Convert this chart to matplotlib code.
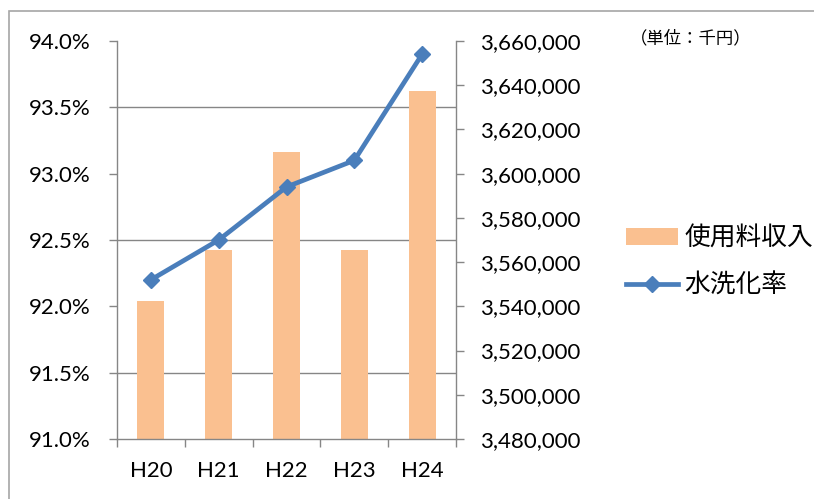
import matplotlib
matplotlib.use("Agg")
import matplotlib.pyplot as plt
from matplotlib.ticker import FixedLocator, FuncFormatter
from matplotlib.patches import Rectangle, Patch
from matplotlib.lines import Line2D

categories = ["H20", "H21", "H22", "H23", "H24"]
revenue = [3542600, 3565400, 3610000, 3565400, 3637300]   # 使用料収入 (千円)
rate = [92.2, 92.5, 92.9, 93.1, 93.9]                      # 水洗化率 (%)
left_ticks = [91.0, 91.5, 92.0, 92.5, 93.0, 93.5, 94.0]
right_ticks = [3480000 + 20000 * i for i in range(10)]

plt.rcParams['font.family'] = ['Lato', 'Noto Sans CJK JP', 'DejaVu Sans']
JP = ['Noto Sans CJK JP', 'DejaVu Sans']

W, H = 814, 499
fig = plt.figure(figsize=(W / 100, H / 100), dpi=100)
fig.patch.set_facecolor('white')

# outer chart frame
fig.patches.append(Rectangle((8.5 / W, -0.2), 1.2, 1.2 - 11 / H, transform=fig.transFigure,
                             fill=False, edgecolor='#a6a6a6', lw=1.2))

ax = fig.add_axes([117 / W, 1 - 439 / H, (456 - 117) / W, (439 - 41) / H])
ax2 = ax.twinx()
gray = '#868686'
x = list(range(len(categories)))
FS = 16

# bars on right axis
ax.bar(x, revenue, width=0.4, color='#FAC090', zorder=2)
ax.set_xlim(-0.5, len(categories) - 0.5)
ax.set_ylim(right_ticks[0], right_ticks[-1])
ax.yaxis.tick_right()
ax.yaxis.set_major_locator(FixedLocator(right_ticks))
ax.yaxis.set_major_formatter(FuncFormatter(lambda v, p: f"{int(round(v)):,}"))
ax.tick_params(axis='y', which='major', direction='out', length=5.5, width=1, color=gray,
               labelsize=FS, pad=12, labelcolor='black')
# gridlines aligned with left-axis ticks
lo, hi = left_ticks[0], left_ticks[-1]
r0, r1 = right_ticks[0], right_ticks[-1]
grid_vals = [r0 + (t - lo) / (hi - lo) * (r1 - r0) for t in left_ticks]
ax.yaxis.set_minor_locator(FixedLocator(grid_vals))
ax.tick_params(axis='y', which='minor', length=0)
ax.grid(axis='y', which='minor', color=gray, lw=1, zorder=0)
ax.set_axisbelow(True)

# x axis: boundary ticks, centered labels
ax.xaxis.set_major_locator(FixedLocator([i - 0.5 for i in range(len(categories) + 1)]))
ax.xaxis.set_major_formatter(FuncFormatter(lambda v, p: ""))
ax.set_xticks(x, categories, minor=True)
ax.tick_params(axis='x', which='major', direction='out', length=5.5, width=1, color=gray)
ax.tick_params(axis='x', which='minor', length=0, labelsize=FS, pad=16, labelcolor='black')

for s in ['left', 'right', 'bottom']:
    ax.spines[s].set_color(gray)
    ax.spines[s].set_linewidth(1)
ax.spines['top'].set_visible(False)

# line on left axis
ax2.plot(x, rate, color='#4A7EBB', lw=3.4, marker='D', markersize=8, zorder=5)
ax2.set_ylim(lo, hi)
ax2.yaxis.tick_left()
ax2.yaxis.set_major_locator(FixedLocator(left_ticks))
ax2.yaxis.set_major_formatter(FuncFormatter(lambda v, p: f"{v:.1f}%"))
ax2.tick_params(axis='y', direction='out', length=6, width=1, color=gray,
                labelsize=FS, pad=13, labelcolor='black')
for s in ax2.spines.values():
    s.set_visible(False)

# unit label
fig.text(630 / W, 1 - 38 / H, "（単位：千円）", fontsize=12.5, family=JP, va='center', ha='left')

# legend
handles = [Patch(facecolor='#FAC090', edgecolor='none'),
           Line2D([0], [0], color='#4A7EBB', lw=3.4, marker='D', markersize=8)]
leg = fig.legend(handles, ["使用料収入", "水洗化率"], loc='upper left',
                 bbox_to_anchor=(616 / W, 1 - 215 / H), frameon=False,
                 prop={'family': JP, 'size': 18.5}, handlelength=2.0, handleheight=0.65,
                 handletextpad=0.25, labelspacing=0.85, borderaxespad=0)

fig.savefig("out.png", dpi=100, facecolor='white')
